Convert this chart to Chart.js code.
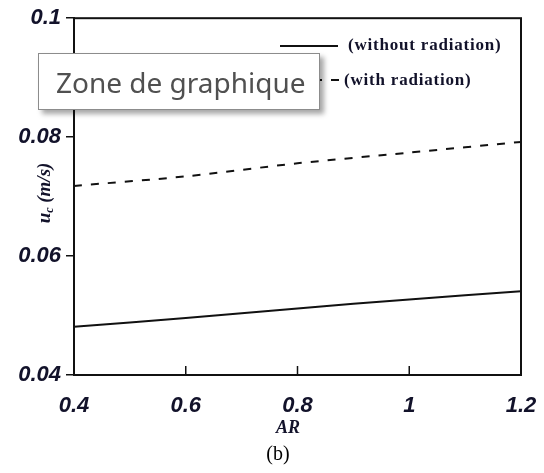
<!DOCTYPE html>
<html>
<head>
<meta charset="utf-8">
<script src="https://cdn.jsdelivr.net/npm/chart.js@4.4.0/dist/chart.umd.min.js"></script>
<style>
  body { margin: 0; background: #fff; }
  #wrap { position: relative; width: 544px; height: 473px; }
  #zone {
    position: absolute; left: 38px; top: 53px; width: 282px; height: 57px;
    border: 1px solid #8c8c8c; background: #fff;
    box-shadow: 4px 4px 5px rgba(0,0,0,0.35);
    font-family: "Noto Sans", sans-serif; font-size: 28px; color: #505050;
    line-height: 57px; padding-left: 17px; box-sizing: border-box;
  }
</style>
</head>
<body>
<div id="wrap">
  <canvas id="chart" width="544" height="473"></canvas>
  <div id="zone">Zone de graphique</div>
</div>
<script>
// values
const arValues = [0.4, 0.6, 0.8, 1.0, 1.2];
const withoutRadiation = [0.0481, 0.0496, 0.0512, 0.0527, 0.0541];
const withRadiation = [0.0718, 0.0734, 0.0756, 0.0774, 0.0792];
const xTickLabels = ["0.4", "0.6", "0.8", "1", "1.2"];
const yTickLabels = ["0.04", "0.06", "0.08", "0.1"];

const tickFont = { family: "'Liberation Sans', sans-serif", size: 22, style: "italic", weight: "bold" };
const inkColor = "#12122a";
const dash = [8, 9];

// frame, inward x ticks, legend, axis titles and caption
const extras = {
  id: "extras",
  afterDraw(chart) {
    const ctx = chart.ctx;
    const a = chart.chartArea;
    const xs = chart.scales.x;
    ctx.save();
    ctx.strokeStyle = "#111";
    ctx.lineWidth = 2;
    ctx.strokeRect(a.left, a.top, a.right - a.left, a.bottom - a.top);

    // x ticks pointing into the plot
    ctx.lineWidth = 1.5;
    for (const v of arValues) {
      const px = xs.getPixelForValue(v);
      ctx.beginPath();
      ctx.moveTo(px, a.bottom);
      ctx.lineTo(px, a.bottom - 9);
      ctx.stroke();
    }

    // legend
    ctx.lineWidth = 2;
    ctx.beginPath();
    ctx.moveTo(280, 46); ctx.lineTo(338, 46);
    ctx.stroke();
    ctx.setLineDash(dash);
    ctx.beginPath();
    ctx.moveTo(280, 80); ctx.lineTo(339, 80);
    ctx.stroke();
    ctx.setLineDash([]);
    ctx.fillStyle = inkColor;
    ctx.font = "bold 17px 'Liberation Serif', serif";
    ctx.letterSpacing = "0.8px";
    ctx.textBaseline = "middle";
    ctx.textAlign = "left";
    ctx.fillText("(without radiation)", 348, 46);
    ctx.fillText("(with radiation)", 344, 81);
    ctx.letterSpacing = "0px";

    // y title with subscript
    ctx.translate(45, 193);
    ctx.rotate(-Math.PI / 2);
    const big = "italic bold 19px 'Liberation Serif', serif";
    const small = "italic bold 12px 'Liberation Serif', serif";
    ctx.font = big;
    const w1 = ctx.measureText("u").width;
    const w3 = ctx.measureText(" (m/s)").width;
    ctx.font = small;
    const w2 = ctx.measureText("c").width;
    let x0 = -(w1 + w2 + w3) / 2;
    ctx.font = big;
    ctx.fillText("u", x0, 0);
    ctx.font = small;
    ctx.fillText("c", x0 + w1, 5);
    ctx.font = big;
    ctx.fillText(" (m/s)", x0 + w1 + w2, 0);
    ctx.restore();

    ctx.save();
    ctx.fillStyle = inkColor;
    ctx.textAlign = "center";
    ctx.textBaseline = "middle";
    ctx.font = "italic bold 18px 'Liberation Serif', serif";
    ctx.fillText("AR", 288, 428);
    ctx.fillStyle = "#000";
    ctx.font = "20px 'Liberation Serif', serif";
    ctx.fillText("(b)", 278, 455);
    ctx.restore();
  }
};

new Chart(document.getElementById("chart"), {
  type: "line",
  data: {
    labels: arValues,
    datasets: [
      {
        label: "(without radiation)",
        data: arValues.map((x, i) => ({ x: x, y: withoutRadiation[i] })),
        borderColor: "#111",
        borderWidth: 2,
        pointRadius: 0,
        tension: 0.3
      },
      {
        label: "(with radiation)",
        data: arValues.map((x, i) => ({ x: x, y: withRadiation[i] })),
        borderColor: "#111",
        borderWidth: 2,
        borderDash: dash,
        pointRadius: 0,
        tension: 0.3
      }
    ]
  },
  options: {
    responsive: false,
    animation: false,
    layout: { padding: { left: 0, right: 23, top: 16, bottom: 0 } },
    plugins: { legend: { display: false }, tooltip: { enabled: false } },
    scales: {
      x: {
        type: "linear",
        min: 0.4, max: 1.2,
        afterFit(scale) { scale.height = 98; },
        border: { display: true, color: "#111", width: 2 },
        grid: { display: false, tickLength: 16 },
        ticks: {
          stepSize: 0.2,
          padding: 2,
          color: inkColor,
          font: tickFont,
          maxRotation: 0,
          callback: (v, i) => xTickLabels[i]
        }
      },
      y: {
        min: 0.04, max: 0.1,
        afterFit(scale) { scale.width = 74; },
        border: { display: true, color: "#111", width: 2 },
        grid: { drawOnChartArea: false, drawTicks: true, tickLength: 8, color: "#111", lineWidth: 1.5 },
        ticks: {
          stepSize: 0.02,
          padding: 5,
          color: inkColor,
          font: tickFont,
          callback: (v, i) => yTickLabels[i]
        }
      }
    }
  },
  plugins: [extras]
});
</script>
</body>
</html>
